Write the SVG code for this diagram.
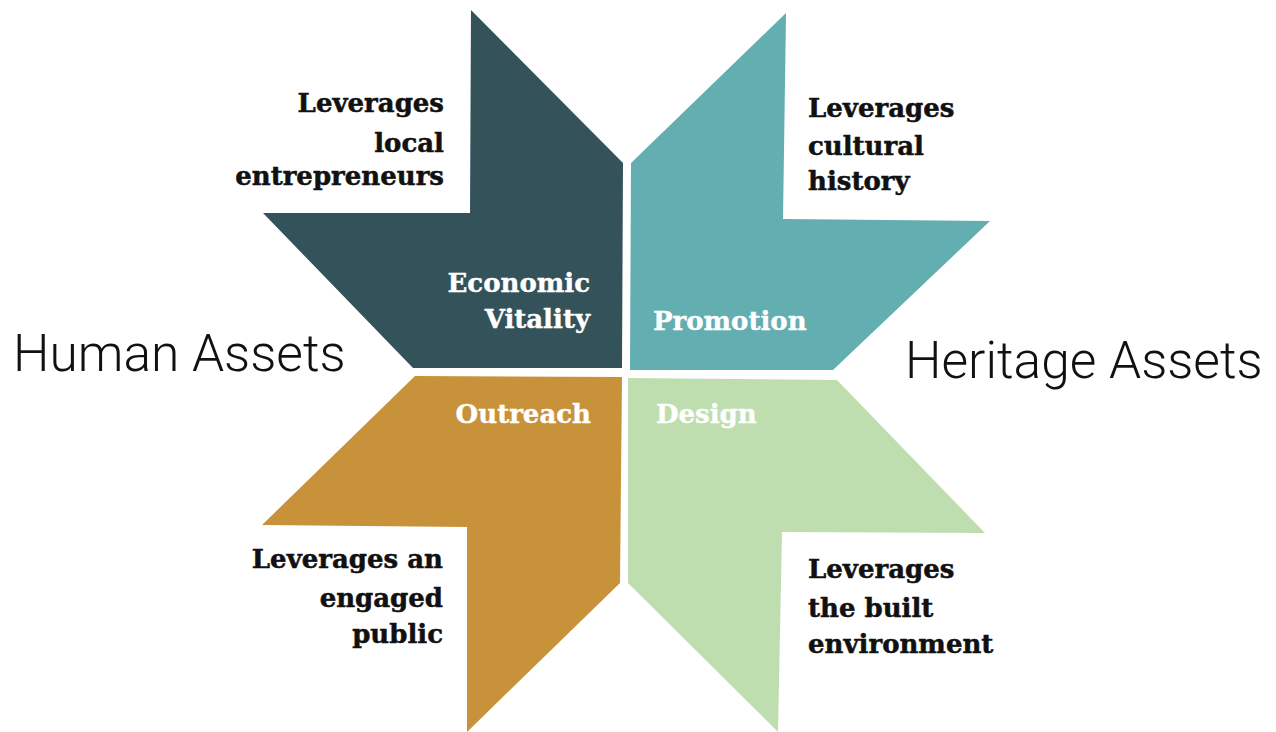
<svg xmlns="http://www.w3.org/2000/svg" width="1276" height="732" viewBox="0 0 1276 732">
<style>
.lbl{font-family:"DejaVu Serif","Liberation Serif",serif;font-weight:bold;font-size:26px;fill:#111;stroke:#111;stroke-width:0.5}
.in{font-family:"DejaVu Serif","Liberation Serif",serif;font-weight:bold;font-size:26px;fill:#fff;stroke:#fff;stroke-width:0.4}
.big{font-family:Roboto,"Liberation Sans",sans-serif;font-weight:300;font-size:51.5px;fill:#111}
.r{text-anchor:end}
</style>
<rect width="1276" height="732" fill="#fff"/>
<g id="economic-vitality">
<polygon points="471,10 623,163 622,368 413,368 263,213 470,213" fill="#34525a"/>
<text class="in r" x="590" y="292">Economic</text>
<text class="in r" x="590" y="328">Vitality</text>
<text class="lbl r" x="444" y="112">Leverages</text>
<text class="lbl r" x="444" y="151.5">local</text>
<text class="lbl r" x="444" y="185">entrepreneurs</text>
</g>
<g id="promotion">
<polygon points="786,13 631,163 630,370 833,370 990,221 783,219" fill="#62aeb1"/>
<text class="in" x="653" y="330">Promotion</text>
<text class="lbl" x="808" y="117">Leverages</text>
<text class="lbl" x="808" y="155">cultural</text>
<text class="lbl" x="808" y="190">history</text>
</g>
<g id="outreach">
<polygon points="415,376 622,377 620,583 467,732 467,527 262,525" fill="#c8923a"/>
<text class="in r" x="591" y="423">Outreach</text>
<text class="lbl r" x="443" y="568">Leverages an</text>
<text class="lbl r" x="443" y="606.5">engaged</text>
<text class="lbl r" x="443" y="643">public</text>
</g>
<g id="design">
<polygon points="628,378 837,380 985,533 782,532 778,732 628,583" fill="#bfdeb0"/>
<text class="in" x="656" y="423">Design</text>
<text class="lbl" x="808" y="578">Leverages</text>
<text class="lbl" x="808" y="616.5">the built</text>
<text class="lbl" x="808" y="653">environment</text>
</g>
<g id="human-assets"><text class="big" x="13" y="371">Human Assets</text></g>
<g id="heritage-assets"><text class="big" x="905" y="378">Heritage Assets</text></g>
<g id="connectors"></g>
</svg>
